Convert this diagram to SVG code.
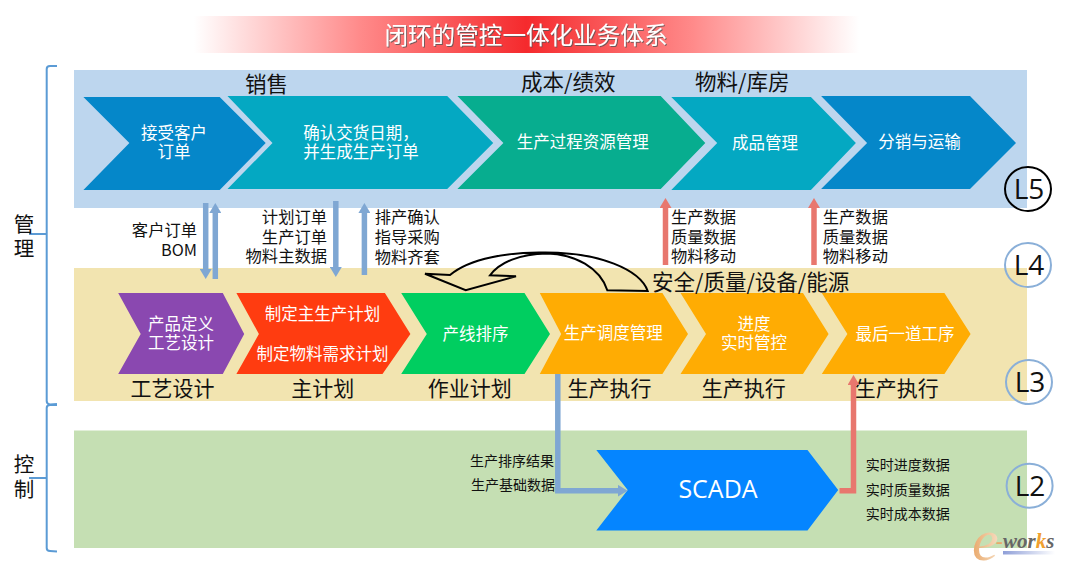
<svg xmlns="http://www.w3.org/2000/svg" width="1068" height="566" viewBox="0 0 1068 566">
<style>
text{font-family:"Noto Sans CJK SC","Noto Sans",sans-serif;dominant-baseline:central;fill:#111}
.w{fill:#fff;font-size:16.5px;text-anchor:middle}
.l{font-size:16.3px}
.r{font-size:16.3px;text-anchor:end}
.s{font-size:14px}
.h{font-size:21.5px}
.b{font-size:21px;text-anchor:middle}
.lv{font-family:"Open Sans",sans-serif;font-size:28px;text-anchor:middle}
.blue{fill:#0587c9}.teal{fill:#04a8c2}.green{fill:#07ad8f}.orange{fill:#ffac03}
.cb{fill:none;stroke:#8aafd8;stroke-width:2}
.bk{fill:none;stroke:#5b9bd5;stroke-width:2}
.ab{fill:none;stroke:#7fa7d3;stroke-width:5.5}
.ar{fill:none;stroke:#e8776e;stroke-width:5.5}
</style>
<defs>
<linearGradient id="tg" x1="0" x2="1" y1="0" y2="0"><stop offset="0" stop-color="#fff"/><stop offset=".25" stop-color="#ff8a8a"/><stop offset=".5" stop-color="#f52a2d"/><stop offset=".75" stop-color="#ff8a8a"/><stop offset="1" stop-color="#fff"/></linearGradient>
<linearGradient id="lg" x1="0" x2="1" y1="0" y2="0"><stop offset="0" stop-color="#8f9fd8"/><stop offset="1" stop-color="#fff"/></linearGradient>
<linearGradient id="eg" x1="0" x2="1" y1="0" y2="0"><stop offset="0" stop-color="#e9a86a"/><stop offset="1" stop-color="#f6dcc0"/></linearGradient>
<filter id="sh" x="-5%" y="-20%" width="110%" height="140%"><feDropShadow dx="1" dy="1" stdDeviation=".6" flood-color="#555" flood-opacity=".8"/></filter>
<marker id="mb" markerUnits="userSpaceOnUse" markerWidth="12" markerHeight="12" refX="3" refY="6" orient="auto"><path d="M0,0L10,6L0,12Z" fill="#7fa7d3"/></marker>
<marker id="mr" markerUnits="userSpaceOnUse" markerWidth="12" markerHeight="12" refX="3" refY="6" orient="auto"><path d="M0,0L10,6L0,12Z" fill="#e8776e"/></marker>
</defs>
<rect width="1068" height="566" fill="#fff"/>
<g id="title"><rect x="194" y="16" width="665" height="37" fill="url(#tg)"/><text x="526" y="34" font-size="23.6" text-anchor="middle" style="fill:#fff" filter="url(#sh)">闭环的管控一体化业务体系</text></g>
<g id="band-l5"><rect x="74" y="70" width="953" height="138" fill="#bdd6ee"/></g>
<g id="band-l4l3"><rect x="74" y="268" width="953" height="133" fill="#f2e4b0"/></g>
<g id="band-l2"><rect x="74" y="430.5" width="953" height="117.5" fill="#c5dfb3"/></g>
<g id="brackets">
<path class="bk" d="M57,66L50,66Q46.7,66 46.7,69V401Q46.7,404 50,404.5L57,404"/>
<path class="bk" d="M29,234H46.7"/>
<path class="bk" d="M57,405L50,405Q46.7,405 46.7,408V548Q46.7,551 50,551L57,551.5"/>
<path class="bk" d="M29,478H46.7"/>
<text x="24" y="223" font-size="20.5" text-anchor="middle">管</text><text x="24" y="247" font-size="20.5" text-anchor="middle">理</text>
<text x="24" y="463" font-size="20.5" text-anchor="middle">控</text><text x="24" y="488" font-size="20.5" text-anchor="middle">制</text>
</g>
<text class="h" x="245" y="82">销售</text>
<text class="h" x="521" y="80">成本/绩效</text>
<text class="h" x="695" y="80">物料/库房</text>
<g id="n1"><polygon class="blue" points="83.4,97 219.7,97 265.7,143 219.7,190 83.4,190 129.4,143"/><text class="w" x="174" y="132">接受客户</text><text class="w" x="174" y="151">订单</text></g>
<g id="n2"><polygon class="teal" points="227.5,96 447.2,96 493.2,143 447.2,189 227.5,189 272.5,143"/><text class="w" x="361" y="132">确认交货日期，</text><text class="w" x="361" y="151">并生成生产订单</text></g>
<g id="n3"><polygon class="green" points="457.400,96 660.700,96 705.300,143 660.700,189 457.400,189 503.400,143"/><text class="w" x="582.7" y="141">生产过程资源管理</text></g>
<g id="n4"><polygon class="teal" points="671.3,97 810.9,97 855.9,143 810.9,190 671.3,190 717.2,143"/><text class="w" x="765" y="142">成品管理</text></g>
<g id="n5"><polygon class="blue" points="821.1,96 970,96 1016,143 970,189 821.1,189 867.1,143"/><text class="w" x="919.6" y="141">分销与运输</text></g>
<g id="n6"><polygon fill="#8a48b0" points="118.2,293 222.8,293 244.2,334 222.8,374 118.2,374 140.7,334"/><text class="w" x="181" y="323">产品定义</text><text class="w" x="181" y="342">工艺设计</text></g>
<g id="n7"><polygon fill="#ff3c10" points="236.4,293 384.9,293 410.4,334 382.5,374 236.4,374 258.9,334"/><text class="w" x="322.5" y="312.5">制定主生产计划</text><text class="w" x="322.5" y="353">制定物料需求计划</text></g>
<g id="n8"><polygon fill="#00ce60" points="401.2,293 524.5,293 550,334 524.5,374 401.2,374 426.8,334"/><text class="w" x="475.5" y="333">产线排序</text></g>
<g id="n9"><polygon class="orange" points="539.8,293 662.4,293 688,334 662.4,374 539.8,374 561.2,334"/><text class="w" x="613.3" y="332">生产调度管理</text></g>
<g id="n10"><polygon class="orange" points="680.5,293 803,293 828.6,334 803,374 680.5,374 706,334"/><text class="w" x="754" y="323">进度</text><text class="w" x="754" y="342">实时管控</text></g>
<g id="n11"><polygon class="orange" points="821.8,293 944.4,293 970.6,334 944.4,374 821.8,374 847.4,334"/><text class="w" x="905" y="333">最后一道工序</text></g>
<g id="n12"><polygon fill="#0585ff" points="596.3,450 807.5,450 838.2,490 807.5,530.5 596.3,530.5 627.7,490"/><text x="718" y="488" font-size="25" text-anchor="middle" style="font-family:'Open Sans',sans-serif;fill:#fff">SCADA</text></g>
<text class="b" x="172.4" y="387">工艺设计</text>
<text class="b" x="322.7" y="387">主计划</text>
<text class="b" x="469.7" y="387">作业计划</text>
<text class="b" x="609.5" y="387">生产执行</text>
<text class="b" x="743.8" y="387">生产执行</text>
<text class="b" x="896.7" y="387">生产执行</text>
<text x="652" y="280" font-size="21.5">安全/质量/设备/能源</text>
<g id="connectors">
<path class="ab" d="M205.7,203V272" marker-end="url(#mb)"/>
<path class="ab" d="M215.3,279V210" marker-end="url(#mb)"/>
<path class="ab" d="M335.8,201V270" marker-end="url(#mb)"/>
<path class="ab" d="M364.4,275V210" marker-end="url(#mb)"/>
<path class="ar" d="M665.500,265V205" marker-end="url(#mr)"/>
<path class="ar" d="M814,265V205" marker-end="url(#mr)"/>
<path class="ab" d="M557.8,374V490.7H620.700" marker-end="url(#mb)"/>
<path class="ar" d="M839.5,490.7H853.5V382" marker-end="url(#mr)"/>
<path fill="none" stroke="#000" stroke-width="2" d="M425,273.7L450,275C470,258 510,252 543,252.5C600,252 640,270 647.7,291L607.3,290.3C600,268 575,254 546.7,253.5C520,254 500,262 490,275.3L516,276.3L465.7,290.3Z"/>
</g>
<g id="labels">
<text class="r" x="197" y="229">客户订单</text><text class="r" x="197" y="249">BOM</text>
<text class="r" x="327" y="216">计划订单</text><text class="r" x="327" y="236">生产订单</text><text class="r" x="327" y="255">物料主数据</text>
<text class="l" x="374.7" y="216">排产确认</text><text class="l" x="374.7" y="236">指导采购</text><text class="l" x="374.7" y="256">物料齐套</text>
<text class="l" x="671" y="216">生产数据</text><text class="l" x="671" y="236">质量数据</text><text class="l" x="671" y="255">物料移动</text>
<text class="l" x="822.8" y="216">生产数据</text><text class="l" x="822.8" y="236">质量数据</text><text class="l" x="822.8" y="255">物料移动</text>
<text class="s" x="470" y="460">生产排序结果</text><text class="s" x="471" y="484">生产基础数据</text>
<text class="s" x="865.7" y="464">实时进度数据</text><text class="s" x="865.7" y="489">实时质量数据</text><text class="s" x="865.7" y="513">实时成本数据</text>
</g>
<g id="l5"><ellipse cx="1028" cy="189" rx="23" ry="22" fill="none" stroke="#000" stroke-width="2"/><text class="lv" x="1029" y="188">L5</text></g>
<g id="l4"><ellipse class="cb" cx="1028" cy="265" rx="23" ry="22"/><text class="lv" x="1029" y="264">L4</text></g>
<g id="l3"><ellipse class="cb" cx="1029" cy="382" rx="23" ry="22"/><text class="lv" x="1030" y="381">L3</text></g>
<g id="l2"><ellipse class="cb" cx="1029.6" cy="485.7" rx="23" ry="22"/><text class="lv" x="1030" y="484.7">L2</text></g>
<g id="logo"><rect x="1003" y="551" width="52" height="3.5" fill="url(#lg)"/>
<text x="972" y="540" font-size="60" font-style="italic" style="font-family:'Liberation Serif',serif;fill:url(#eg)">e</text>
<text x="996" y="541" font-size="21" font-style="italic" font-weight="bold" style="font-family:'Liberation Serif',serif;fill:#666"><tspan style="fill:#e9a86a">-</tspan>wor<tspan style="fill:#f0a030">k</tspan>s</text></g>
</svg>
